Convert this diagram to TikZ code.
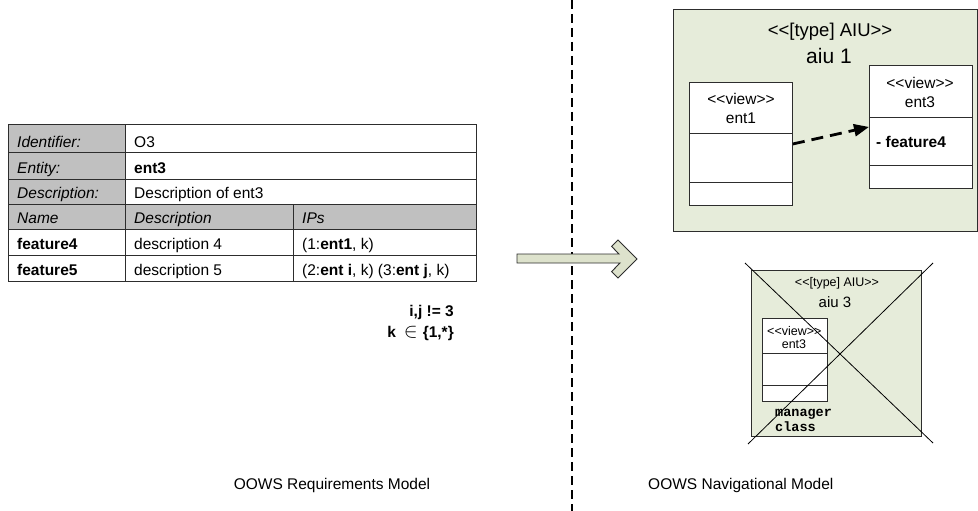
\documentclass[tikz,border=0pt]{standalone}
\usepackage{fontspec}
\setmainfont{Liberation Sans}
\newfontfamily\monob{Liberation Mono}
\usetikzlibrary{arrows.meta}
\definecolor{tgray}{RGB}{192,192,192}
\definecolor{aiugreen}{RGB}{230,236,218}
\definecolor{arrowfill}{RGB}{221,226,204}
\definecolor{edge}{RGB}{45,45,45}
\newcommand\dlt{<\kern0pt<}
\newcommand\dgt{>\kern0pt>}
\tikzset{
  tx/.style={inner sep=0pt, font=\fontsize{15.5}{18}\selectfont},
  txs/.style={inner sep=0pt, font=\fontsize{12.5}{14}\selectfont},
  rule/.style={draw=edge, line width=0.9pt},
  umlbox/.style={draw=edge, line width=0.9pt, fill=white, inner sep=0pt, anchor=north west},
  aiubox/.style={draw=edge, line width=0.9pt, fill=aiugreen, inner sep=0pt, anchor=north west},
  sepline/.style={draw=black, line width=2pt, dash pattern=on 9pt off 5pt},
  navarrow/.style={draw=black, line width=2.8pt, dash pattern=on 12pt off 7pt, -{Triangle[length=15pt,width=12pt]}},
  crossline/.style={draw=black, line width=0.8pt},
}
\begin{document}
\begin{tikzpicture}[x=1pt,y=-1pt]
\useasboundingbox (0,0) rectangle (978,511);
% ---------------- table ----------------
\fill[tgray] (8,124) rectangle (125,204);
\fill[tgray] (8,204) rectangle (476,229);
\draw[rule] (8,124) rectangle (476,281);
\foreach \yy in {152,179,204,229,255} \draw[rule] (8,\yy) -- (476,\yy);
\draw[rule] (125,124) -- (125,281);
\draw[rule] (293,204) -- (293,281);
\node[tx, anchor=base west] (l1) at (17,147) {\itshape Identifier:};
\node[tx, anchor=base west] (v1) at (134,147) {O3};
\node[tx, anchor=base west] (l2) at (17,173) {\itshape Entity:};
\node[tx, anchor=base west] (v2) at (134,173) {\bfseries ent3};
\node[tx, anchor=base west] (l3) at (17,198) {\itshape Description:};
\node[tx, anchor=base west] (v3) at (134,198) {Description of ent3};
\node[tx, anchor=base west] (h1) at (17,223) {\itshape Name};
\node[tx, anchor=base west] (h2) at (134,223) {\itshape Description};
\node[tx, anchor=base west] (h3) at (302,223) {\itshape IPs};
\node[tx, anchor=base west] (f4) at (17,249) {\bfseries feature4};
\node[tx, anchor=base west] (d4) at (134,249) {description 4};
\node[tx, anchor=base west] (p4) at (302,249) {(1:\textbf{ent1}, k)};
\node[tx, anchor=base west] (f5) at (17,275) {\bfseries feature5};
\node[tx, anchor=base west] (d5) at (134,275) {description 5};
\node[tx, anchor=base west] (p5) at (302,275) {(2:\textbf{ent i}, k) (3:\textbf{ent j}, k)};
\node[tx, anchor=base east, font=\fontsize{15.5}{18}\selectfont\bfseries] (c1) at (454,316) {i,j != 3};
\node[tx, anchor=base east, font=\fontsize{15.5}{18}\selectfont\bfseries] (c2) at (454,337) {k\hspace{8pt}{\fontsize{22}{22}\selectfont$\in$}\hspace{5pt}\{1,*\}};
% ---------------- separator ----------------
\coordinate (st) at (572,0);
\coordinate (sb) at (572,511);
\draw[sepline] (st) -- (sb);
% ---------------- block arrow ----------------
\draw[draw=edge, line width=0.9pt, fill=arrowfill, line join=miter]
  (517,254) -- (619,254) -- (611.6,246.4) -- (618,240) -- (637,259) -- (618,278)
  -- (611.6,271.6) -- (620,263) -- (517,263) -- cycle;
% ---------------- aiu 1 ----------------
\node[aiubox, minimum width=304pt, minimum height=222pt] (aiu1) at (673,9) {};
\node[inner sep=0pt, font=\fontsize{18.5}{20}\selectfont] (aiu1s) at (830,32) {\dlt[type] AIU\dgt};
\node[inner sep=0pt, font=\fontsize{21}{24}\selectfont] (aiu1n) at (829,56) {aiu 1};
\node[umlbox, minimum width=103pt, minimum height=123pt] (ent1) at (689,82) {};
\draw[rule] (689,133) -- (792,133);
\draw[rule] (689,182) -- (792,182);
\node[tx] (e1s) at (741,99) {\dlt view\dgt};
\node[tx] (e1n) at (741,118) {ent1};
\node[umlbox, minimum width=103pt, minimum height=123pt] (ent3) at (869,65) {};
\draw[rule] (869,117) -- (972,117);
\draw[rule] (869,165) -- (972,165);
\node[tx] (e3s) at (920,83) {\dlt view\dgt};
\node[tx] (e3n) at (920,102) {ent3};
\node[tx, anchor=west] (e3f) at (876,142) {\bfseries - feature4};
\draw[navarrow] (ent1.east) -- (ent3.west);
% ---------------- aiu 3 (crossed) ----------------
\node[aiubox, minimum width=170pt, minimum height=166pt] (aiu3) at (751,270) {};
\node[inner sep=0pt, font=\fontsize{12.5}{14}\selectfont] (aiu3s) at (837,283) {\dlt[type] AIU\dgt};
\node[inner sep=0pt, font=\fontsize{15}{17}\selectfont] (aiu3n) at (835,302) {aiu 3};
\node[umlbox, minimum width=65pt, minimum height=83pt] (ent3b) at (762,318) {};
\draw[rule] (762,353) -- (827,353);
\draw[rule] (762,385) -- (827,385);
\node[txs, anchor=west] (eb1) at (767,331) {\dlt view\dgt};
\node[txs] (eb2) at (794,344) {ent3};
\node[inner sep=0pt, anchor=west, font=\fontsize{13.5}{15}\selectfont\monob\bfseries, align=left] (mgr) at (775,420) {manager\\class};
\coordinate (x1a) at (745,263);
\coordinate (x1b) at (933,443);
\coordinate (x2a) at (933,263);
\coordinate (x2b) at (748,444);
\draw[crossline] (x1a) -- (x1b);
\draw[crossline] (x2a) -- (x2b);
% ---------------- labels ----------------
\node[tx] (lreq) at (332,485) {OOWS Requirements Model};
\node[tx, anchor=west] (lnav) at (648,485) {OOWS Navigational Model};
\end{tikzpicture}
\end{document}
